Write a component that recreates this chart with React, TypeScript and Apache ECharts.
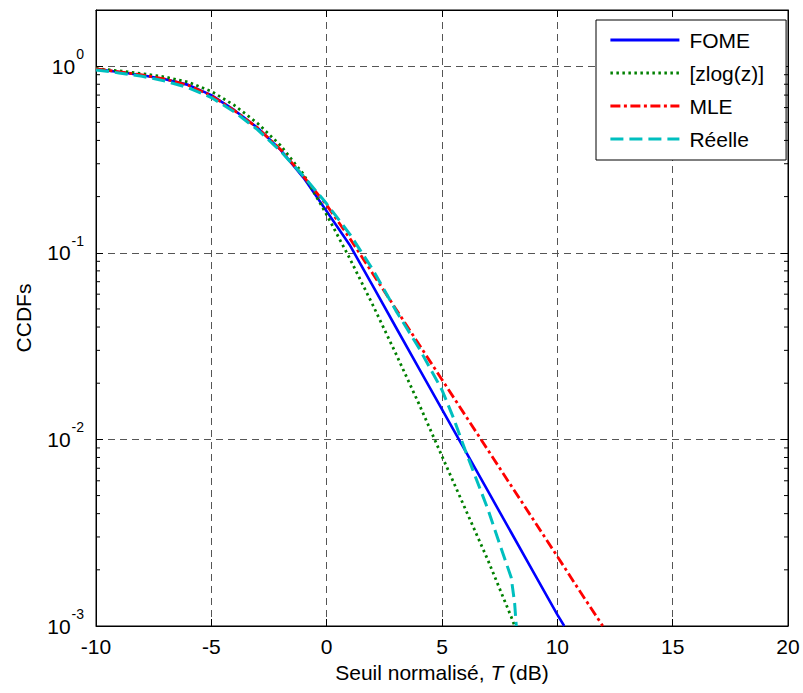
import React, { useEffect, useRef } from "react";
import * as echarts from "echarts";

// Threshold T (dB) sample points for each curve
const T_FOME = [-10, -9, -8, -7, -6, -5, -4, -3, -2, -1, 0, 1, 2, 3, 4, 5, 6, 7, 8, 9, 10, 10.3];
const FOME = [0.964, 0.931, 0.895, 0.851, 0.794, 0.7, 0.581, 0.468, 0.356, 0.252, 0.167, 0.1101, 0.0664, 0.0399, 0.024, 0.0145, 0.00873, 0.00526, 0.00317, 0.00191, 0.00115, 0.001];

const T_ZLOG = [-10, -9, -8, -7, -6, -5, -4, -3, -2, -1, 0, 1, 2, 3, 4, 5, 6, 7, 8, 8.15];
const ZLOG = [0.973, 0.944, 0.912, 0.875, 0.822, 0.733, 0.617, 0.495, 0.376, 0.263, 0.16, 0.0933, 0.0525, 0.0288, 0.0155, 0.00813, 0.00427, 0.00224, 0.00112, 0.001];

const T_MLE = [-10, -9, -8, -7, -6, -5, -4, -3, -2, -1, 0, 1, 2, 3, 4, 5, 6, 7, 8, 9, 10, 11, 11.97];
const MLE = [0.966, 0.933, 0.897, 0.853, 0.79, 0.695, 0.578, 0.468, 0.358, 0.256, 0.18, 0.1197, 0.0773, 0.05, 0.0323, 0.0209, 0.0135, 0.00873, 0.00564, 0.00365, 0.00236, 0.00152, 0.001];

const T_REELLE = [-10, -9, -8, -7, -6, -5, -4, -3, -2, -1, 0, 1, 2, 3, 4, 5, 5.5, 6, 7, 7.5, 8, 8.15, 8.22];
const REELLE = [0.955, 0.92, 0.883, 0.832, 0.767, 0.679, 0.569, 0.457, 0.351, 0.257, 0.183, 0.126, 0.0813, 0.049, 0.0309, 0.0184, 0.013, 0.00879, 0.00419, 0.00275, 0.00182, 0.00132, 0.001];

const SERIES_NAMES = ["FOME", "[zlog(z)]", "MLE", "Réelle"];
const X_TICKS = { min: -10, max: 20, interval: 5 };
const Y_RANGE = { min: 0.001, max: 2 };
const MINOR_TICKS = [
  0.002, 0.003, 0.004, 0.005, 0.006, 0.007, 0.008, 0.009,
  0.02, 0.03, 0.04, 0.05, 0.06, 0.07, 0.08, 0.09,
  0.2, 0.3, 0.4, 0.5, 0.6, 0.7, 0.8, 0.9,
];

const zip = (xs: number[], ys: number[]) => xs.map((x, i) => [x, ys[i]]);

const FONT = "'Liberation Sans', Arial, Helvetica, sans-serif";

export default function App() {
  const ref = useRef<HTMLDivElement>(null);
  useEffect(() => {
    if (!ref.current) return;
    const chart = echarts.init(ref.current, undefined, { renderer: "svg" });
    const gridColor = "#555";
    const splitLine = { show: true, lineStyle: { color: gridColor, type: [7, 5], width: 1 } };
    const lineBase = { type: "line", symbol: "none", showSymbol: false, smooth: false, xAxisIndex: 0, yAxisIndex: 0 };
    chart.setOption({
      animation: false,
      backgroundColor: "#fff",
      textStyle: { fontFamily: FONT, color: "#000" },
      grid: { left: 96, right: 15, top: 10, bottom: 67, show: true, borderColor: "#000", borderWidth: 1, backgroundColor: "#fff" },
      legend: {
        data: SERIES_NAMES,
        orient: "vertical",
        left: 596,
        top: 20,
        padding: [9, 22, 10, 13],
        itemWidth: 69,
        itemHeight: 14,
        itemGap: 11,
        backgroundColor: "#fff",
        borderColor: "#000",
        borderWidth: 1,
        borderRadius: 0,
        itemStyle: { opacity: 0 },
        lineStyle: { width: 2.8 },
        textStyle: { fontSize: 21, fontFamily: FONT, color: "#000", lineHeight: 22, padding: [0, 0, 0, 5] },
      },
      xAxis: [
        {
          type: "value",
          min: X_TICKS.min,
          max: X_TICKS.max,
          interval: X_TICKS.interval,
          position: "bottom",
          axisLine: { show: true, onZero: false, lineStyle: { color: "#000", width: 1 } },
          axisTick: { show: true, inside: true, length: 7, lineStyle: { color: "#000" } },
          axisLabel: { fontSize: 21, color: "#000", margin: 10, fontFamily: FONT },
          splitLine,
          name: "Seuil normalisé, {i|T} (dB)",
          nameLocation: "middle",
          nameGap: 36,
          nameTextStyle: { fontSize: 21, color: "#000", fontFamily: FONT, rich: { i: { fontStyle: "italic", fontSize: 21, fontFamily: FONT } } },
        },
        {
          type: "value",
          min: X_TICKS.min,
          max: X_TICKS.max,
          interval: X_TICKS.interval,
          position: "top",
          axisLine: { show: true, onZero: false, lineStyle: { color: "#000", width: 1 } },
          axisTick: { show: true, inside: true, length: 7, lineStyle: { color: "#000" } },
          axisLabel: { show: false },
          splitLine: { show: false },
        },
      ],
      yAxis: [
        {
          type: "log",
          logBase: 10,
          min: Y_RANGE.min,
          max: Y_RANGE.max,
          position: "left",
          axisLine: { show: true, onZero: false, lineStyle: { color: "#000", width: 1 } },
          axisTick: { show: true, inside: true, length: 7, lineStyle: { color: "#000" } },
          axisLabel: {
            margin: 12,
            formatter: (v: number) => {
              const l = Math.log10(v);
              const e = Math.round(l);
              if (Math.abs(l - e) > 0.01) return "";
              return `{b|10}{s|${e}}`;
            },
            rich: {
              b: { fontSize: 21, lineHeight: 21, color: "#000", fontFamily: FONT, verticalAlign: "middle" },
              s: { fontSize: 14, lineHeight: 14, color: "#000", fontFamily: FONT, verticalAlign: "middle", padding: [0, 0, 24, 1] },
            },
          },
          splitLine,
          name: "CCDFs",
          nameLocation: "middle",
          nameGap: 62,
          nameTextStyle: { fontSize: 21, color: "#000", fontFamily: FONT },
        },
        {
          type: "log",
          logBase: 10,
          min: Y_RANGE.min,
          max: Y_RANGE.max,
          position: "right",
          axisLine: { show: true, onZero: false, lineStyle: { color: "#000", width: 1 } },
          axisTick: { show: true, inside: true, length: 7, lineStyle: { color: "#000" } },
          axisLabel: { show: false },
          splitLine: { show: false },
        },
      ],
      series: [
        {
          ...lineBase,
          name: SERIES_NAMES[0],
          data: zip(T_FOME, FOME),
          lineStyle: { color: "#0000ff", width: 2.6, type: "solid" },
          itemStyle: { color: "#0000ff" },
          z: 3,
        },
        {
          ...lineBase,
          name: SERIES_NAMES[1],
          data: zip(T_ZLOG, ZLOG),
          lineStyle: { color: "#008000", width: 2.8, type: [2.5, 3.5] },
          itemStyle: { color: "#008000" },
          z: 4,
        },
        {
          ...lineBase,
          name: SERIES_NAMES[2],
          data: zip(T_MLE, MLE),
          lineStyle: { color: "#ff0000", width: 2.8, type: [10, 3.5, 3, 3.5] },
          itemStyle: { color: "#ff0000" },
          z: 5,
        },
        {
          ...lineBase,
          name: SERIES_NAMES[3],
          data: zip(T_REELLE, REELLE),
          lineStyle: { color: "#00bfbf", width: 3, type: [13, 6] },
          itemStyle: { color: "#00bfbf" },
          z: 6,
        },
        {
          type: "custom",
          name: "minorTicks",
          xAxisIndex: 0,
          yAxisIndex: 0,
          silent: true,
          clip: false,
          z: 10,
          encode: { x: 0, y: 1 },
          data: MINOR_TICKS.map((v) => [X_TICKS.min, v]),
          renderItem: (params: any, api: any) => {
            const v = api.value(1);
            const pL = api.coord([X_TICKS.min, v]);
            const pR = api.coord([X_TICKS.max, v]);
            return {
              type: "group",
              children: [
                { type: "line", shape: { x1: pL[0], y1: pL[1], x2: pL[0] + 4, y2: pL[1] }, style: { stroke: "#000", lineWidth: 1 } },
                { type: "line", shape: { x1: pR[0] - 4, y1: pR[1], x2: pR[0], y2: pR[1] }, style: { stroke: "#000", lineWidth: 1 } },
              ],
            };
          },
        },
      ],
    });
    return () => chart.dispose();
  }, []);
  return (
    <div style={{ position: "fixed", left: 0, top: 0, width: 803, height: 693, background: "#fff" }}>
      <div ref={ref} style={{ width: 803, height: 693 }} />
    </div>
  );
}
